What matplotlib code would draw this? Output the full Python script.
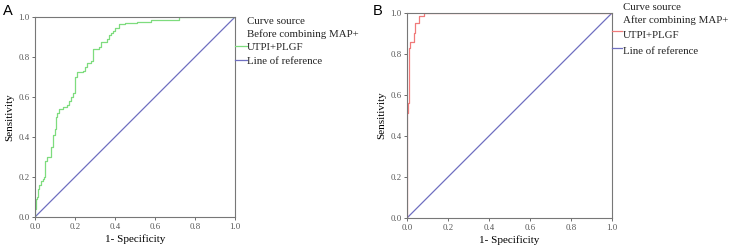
import numpy as np
import matplotlib.pyplot as plt

# ROC before combining (panel A)
fpr_a = [0.0, 0.0, 0.005, 0.01, 0.015, 0.02, 0.03, 0.04, 0.045, 0.05, 0.06, 0.075, 0.08,
         0.09, 0.10, 0.105, 0.11, 0.12, 0.14, 0.16, 0.17, 0.18, 0.19, 0.20, 0.21, 0.24,
         0.25, 0.26, 0.28, 0.29, 0.32, 0.33, 0.36, 0.37, 0.38, 0.39, 0.40, 0.42, 0.45,
         0.51, 0.58, 0.72, 1.0]
tpr_a = [0.0, 0.04, 0.09, 0.10, 0.14, 0.16, 0.18, 0.19, 0.20, 0.28, 0.30, 0.30, 0.35,
         0.41, 0.44, 0.50, 0.52, 0.54, 0.55, 0.56, 0.58, 0.60, 0.62, 0.70, 0.725, 0.73,
         0.75, 0.77, 0.78, 0.84, 0.85, 0.875, 0.89, 0.91, 0.92, 0.93, 0.945, 0.963, 0.97,
         0.975, 0.987, 1.0, 1.0]

# ROC after combining (panel B)
fpr_b = [0.0, 0.0, 0.007, 0.007, 0.01, 0.016, 0.016, 0.034, 0.034, 0.037, 0.037, 0.054,
         0.057, 0.078, 0.083, 1.0]
tpr_b = [0.0, 0.51, 0.56, 0.56, 0.83, 0.83, 0.857, 0.857, 0.90, 0.92, 0.95, 0.95,
         0.985, 0.985, 1.0, 1.0]

ticks = [0.0, 0.2, 0.4, 0.6, 0.8, 1.0]
tick_labels = ["0.0", "0.2", "0.4", "0.6", "0.8", "1.0"]

serif = "Liberation Serif"
fig = plt.figure(figsize=(7.32, 2.49), dpi=100)

def roc_panel(rect, fpr, tpr, color, letter, letter_x, legend):
    ax = fig.add_axes(rect)
    ax.plot([0, 1], [0, 1], color="#6f6fc0", lw=0.9)
    ax.plot(fpr, tpr, color=color, lw=0.9, drawstyle="steps-post")
    ax.set_xlim(0, 1)
    ax.set_ylim(0, 1)
    ax.set_xticks(ticks)
    ax.set_xticklabels(tick_labels, family=serif, fontsize=6.3, color="#555555")
    ax.set_yticks(ticks)
    ax.set_yticklabels(tick_labels, family=serif, fontsize=6.3, color="#555555")
    ax.tick_params(length=2, width=0.6, color="#555555", pad=2)
    for s in ax.spines.values():
        s.set_color("#777777")
        s.set_linewidth(0.8)
    ax.set_xlabel("1- Specificity", family=serif, fontsize=8, labelpad=3)
    ax.set_ylabel("Sensitivity", family=serif, fontsize=8, labelpad=3)
    fig.text(letter_x, 0.985, letter, family="Liberation Sans", fontsize=10.5, va="top")
    # legend drawn as text plus short lines
    tx, rows = legend
    for txt, y in rows:
        fig.text(tx, y, txt, family=serif, fontsize=7.8, va="center", color="#222222")
    return ax

ax_a = roc_panel([35 / 732, 1 - 217 / 249, 200 / 732, 200 / 249], fpr_a, tpr_a,
                 "#7edc7e", "A", 0.004,
                 (247 / 732, [("Curve source", 1 - 21 / 249),
                              ("Before combining MAP+", 1 - 34 / 249),
                              ("UTPI+PLGF", 1 - 48 / 249),
                              ("Line of reference", 1 - 61 / 249)]))
fig.add_artist(plt.Line2D([235 / 732, 247 / 732], [1 - 46 / 249] * 2, color="#7edc7e", lw=0.9))
fig.add_artist(plt.Line2D([235 / 732, 247 / 732], [1 - 60 / 249] * 2, color="#6f6fc0", lw=0.9))

ax_b = roc_panel([407 / 732, 1 - 218 / 249, 205 / 732, 205 / 249], fpr_b, tpr_b,
                 "#f07a7a", "B", 373 / 732,
                 (623 / 732, [("Curve source", 1 - 7 / 249),
                              ("After combining MAP+", 1 - 20 / 249),
                              ("UTPI+PLGF", 1 - 36 / 249),
                              ("Line of reference", 1 - 51 / 249)]))
fig.add_artist(plt.Line2D([612 / 732, 622 / 732], [1 - 31 / 249] * 2, color="#f07a7a", lw=0.9))
fig.add_artist(plt.Line2D([612 / 732, 622 / 732], [1 - 48 / 249] * 2, color="#6f6fc0", lw=0.9))

fig.savefig("out.png", dpi=100)
